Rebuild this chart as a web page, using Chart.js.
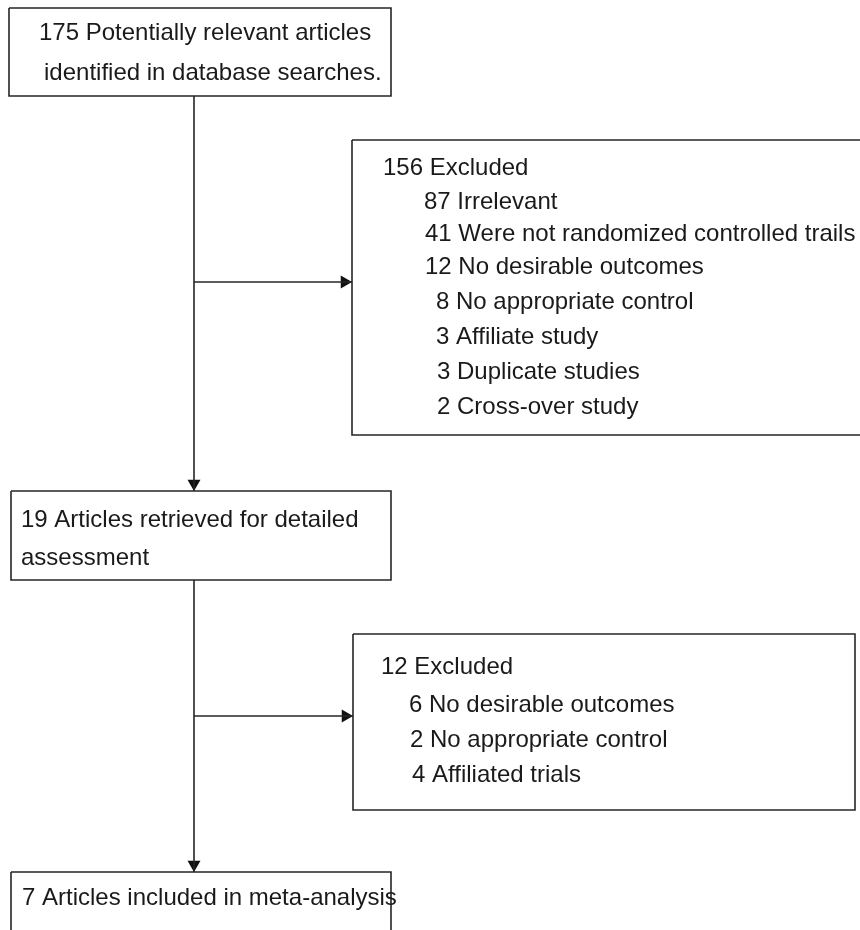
<!DOCTYPE html>
<html>
<head>
<meta charset="utf-8">
<script src="https://cdn.jsdelivr.net/npm/chart.js@4/dist/chart.umd.min.js"></script>
<style>
  html, body { margin: 0; padding: 0; background: #fff; }
  canvas { display: block; }
</style>
</head>
<body>
<canvas id="flow" width="860" height="930"></canvas>
<script>
// textos del diagrama de flujo (los datos)
const searchLines = ['175 Potentially relevant articles', 'identified in database searches.'];
const excludedFirst = [
  '156 Excluded',
  '87 Irrelevant',
  '41 Were not randomized controlled trails',
  '12 No desirable outcomes',
  '8 No appropriate control',
  '3 Affiliate study',
  '3 Duplicate studies',
  '2 Cross-over study'
];
const retrievedLines = ['19 Articles retrieved for detailed', 'assessment'];
const excludedSecond = [
  '12 Excluded',
  '6 No desirable outcomes',
  '2 No appropriate control',
  '4 Affiliated trials'
];
const includedLines = ['7 Articles included in meta-analysis'];

// disposición: cajas en coordenadas de la escala (0..860 x, 0..930 y)
const SPINE_X = 194;
const ARROW_R = 7.5;
const boxes = [
  { lines: searchLines, x1: 9, x2: 391, y1: 8, y2: 96, tx: [39, 44], ty: [33, 73] },
  { lines: excludedFirst, x1: 352, x2: 875, y1: 140, y2: 435,
    tx: [383, 424, 425, 425, 436, 436, 437, 437], ty: [168, 202, 234, 267, 302, 337, 372, 407] },
  { lines: retrievedLines, x1: 11, x2: 391, y1: 491, y2: 580, tx: [21, 21], ty: [520, 558] },
  { lines: excludedSecond, x1: 353, x2: 855, y1: 634, y2: 810,
    tx: [381, 409, 410, 412], ty: [667, 705, 740, 775] },
  { lines: includedLines, x1: 11, x2: 391, y1: 872, y2: 945, tx: [22], ty: [898] }
];

// conectores: [desde caja, hacia caja, y de la rama (null = vertical)]
const links = [
  { from: 0, to: 2, branchY: null },
  { from: 0, to: 1, branchY: 282 },
  { from: 2, to: 4, branchY: null },
  { from: 2, to: 3, branchY: 716 }
];

const LINE_COLOR = '#262626';
const TEXT_COLOR = '#1a1a1a';

function boxPath(b) {
  return [
    { x: b.x1, y: b.y1 }, { x: b.x2, y: b.y1 },
    { x: b.x2, y: b.y2 }, { x: b.x1, y: b.y2 }, { x: b.x1, y: b.y1 }
  ];
}

const datasets = [];

boxes.forEach(b => {
  datasets.push({
    type: 'scatter',
    data: boxPath(b),
    showLine: true,
    borderColor: LINE_COLOR,
    borderWidth: 1.6,
    pointRadius: 0,
    fill: false
  });
});

links.forEach(l => {
  const src = boxes[l.from];
  const dst = boxes[l.to];
  let path, head, rot;
  if (l.branchY === null) {
    path = [{ x: SPINE_X, y: src.y2 }, { x: SPINE_X, y: dst.y1 }];
    head = { x: SPINE_X, y: dst.y1 - ARROW_R };
    rot = 180;
  } else {
    path = [{ x: SPINE_X, y: l.branchY }, { x: dst.x1, y: l.branchY }];
    head = { x: dst.x1 - ARROW_R, y: l.branchY };
    rot = 90;
  }
  datasets.push({
    type: 'scatter',
    data: path,
    showLine: true,
    borderColor: LINE_COLOR,
    borderWidth: 1.6,
    pointRadius: 0
  });
  datasets.push({
    type: 'scatter',
    data: [head],
    pointStyle: 'triangle',
    rotation: rot,
    pointRadius: ARROW_R,
    backgroundColor: '#111',
    borderColor: '#111',
    borderWidth: 0
  });
});

// plugin para escribir los textos dentro de las cajas
const boxText = {
  id: 'boxText',
  afterDatasetsDraw(chart) {
    const ctx = chart.ctx;
    const xs = chart.scales.x;
    const ys = chart.scales.y;
    ctx.save();
    ctx.fillStyle = TEXT_COLOR;
    ctx.font = '24px "Liberation Sans", Arial, sans-serif';
    ctx.textAlign = 'left';
    ctx.textBaseline = 'middle';
    boxes.forEach(b => {
      b.lines.forEach((t, i) => {
        ctx.fillText(t, xs.getPixelForValue(b.tx[i]), ys.getPixelForValue(b.ty[i]));
      });
    });
    ctx.restore();
  }
};

new Chart(document.getElementById('flow'), {
  type: 'scatter',
  data: { datasets: datasets },
  options: {
    responsive: false,
    devicePixelRatio: 1,
    animation: false,
    layout: { padding: 0, autoPadding: false },
    plugins: { legend: { display: false }, tooltip: { enabled: false } },
    scales: {
      x: { type: 'linear', min: 0, max: 860, display: false },
      y: { type: 'linear', min: 0, max: 930, reverse: true, display: false }
    }
  },
  plugins: [boxText]
});
</script>
</body>
</html>
